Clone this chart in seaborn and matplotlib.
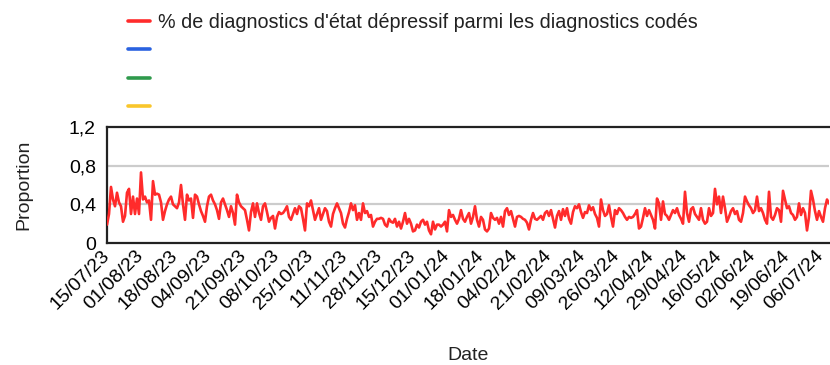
import numpy as np
import pandas as pd
import matplotlib
matplotlib.use("Agg")
import matplotlib.pyplot as plt
from matplotlib.lines import Line2D
import seaborn as sns

# Daily share of depression diagnoses among all coded diagnoses
start_date = "2023-07-15"
values_jul_sep = [
    0.19, 0.30, 0.58, 0.45, 0.38, 0.52, 0.42, 0.38, 0.22, 0.28,
    0.52, 0.56, 0.30, 0.48, 0.30, 0.46, 0.30, 0.73, 0.45, 0.48,
    0.42, 0.44, 0.24, 0.64, 0.50, 0.51, 0.50, 0.42, 0.24, 0.33,
    0.40, 0.45, 0.48, 0.40, 0.38, 0.36, 0.42, 0.60, 0.40, 0.24,
    0.50, 0.44, 0.46, 0.26, 0.50, 0.48, 0.40, 0.33, 0.28, 0.22,
    0.38, 0.48, 0.50, 0.44, 0.40, 0.34, 0.25, 0.42, 0.46, 0.40,
]
values_sep_nov = [
    0.34, 0.27, 0.38, 0.31, 0.19, 0.50, 0.42, 0.38, 0.36, 0.34,
    0.24, 0.13, 0.32, 0.41, 0.27, 0.41, 0.31, 0.24, 0.38, 0.41,
    0.32, 0.22, 0.26, 0.28, 0.15, 0.27, 0.32, 0.30, 0.31, 0.34,
    0.38, 0.27, 0.24, 0.30, 0.36, 0.30, 0.38, 0.36, 0.25, 0.13,
    0.41, 0.38, 0.44, 0.34, 0.24, 0.30, 0.36, 0.24, 0.30, 0.36,
    0.33, 0.22, 0.17, 0.30, 0.36, 0.41, 0.36, 0.31, 0.20, 0.16,
]
values_nov_jan = [
    0.25, 0.32, 0.41, 0.34, 0.39, 0.24, 0.31, 0.24, 0.41, 0.31,
    0.33, 0.27, 0.29, 0.17, 0.22, 0.25, 0.25, 0.26, 0.25, 0.19,
    0.17, 0.25, 0.22, 0.21, 0.25, 0.17, 0.22, 0.15, 0.22, 0.31,
    0.20, 0.25, 0.20, 0.12, 0.13, 0.19, 0.16, 0.22, 0.24, 0.19,
    0.22, 0.13, 0.09, 0.22, 0.14, 0.19, 0.19, 0.17, 0.19, 0.22,
    0.12, 0.34, 0.27, 0.29, 0.24, 0.20, 0.25, 0.34, 0.25, 0.22,
]
values_jan_mar = [
    0.27, 0.31, 0.20, 0.27, 0.38, 0.24, 0.17, 0.27, 0.24, 0.14,
    0.12, 0.15, 0.31, 0.26, 0.24, 0.26, 0.20, 0.27, 0.17, 0.33,
    0.36, 0.29, 0.33, 0.25, 0.17, 0.27, 0.28, 0.27, 0.25, 0.24,
    0.21, 0.14, 0.24, 0.31, 0.25, 0.24, 0.26, 0.28, 0.24, 0.31,
    0.33, 0.28, 0.34, 0.25, 0.16, 0.28, 0.33, 0.24, 0.35, 0.28,
    0.36, 0.25, 0.20, 0.32, 0.38, 0.36, 0.40, 0.32, 0.26, 0.32,
]
values_mar_may = [
    0.31, 0.39, 0.34, 0.37, 0.30, 0.26, 0.17, 0.45, 0.34, 0.28,
    0.30, 0.39, 0.27, 0.17, 0.34, 0.30, 0.36, 0.34, 0.31, 0.27,
    0.24, 0.27, 0.26, 0.27, 0.30, 0.34, 0.15, 0.17, 0.26, 0.36,
    0.28, 0.34, 0.29, 0.24, 0.15, 0.46, 0.41, 0.24, 0.43, 0.30,
    0.28, 0.24, 0.29, 0.34, 0.31, 0.36, 0.29, 0.25, 0.20, 0.53,
    0.31, 0.22, 0.35, 0.37, 0.30, 0.27, 0.24, 0.36, 0.24, 0.20,
]
values_may_jul = [
    0.22, 0.36, 0.28, 0.31, 0.56, 0.40, 0.48, 0.31, 0.48, 0.36,
    0.22, 0.27, 0.33, 0.36, 0.30, 0.33, 0.24, 0.22, 0.31, 0.48,
    0.43, 0.39, 0.36, 0.31, 0.34, 0.48, 0.33, 0.36, 0.31, 0.24,
    0.20, 0.53, 0.27, 0.24, 0.29, 0.36, 0.34, 0.22, 0.54, 0.45,
    0.36, 0.38, 0.31, 0.29, 0.24, 0.27, 0.41, 0.29, 0.36, 0.31,
    0.13, 0.27, 0.54, 0.45, 0.33, 0.24, 0.33, 0.27, 0.22, 0.36,
    0.45, 0.41,
]

series_label = "% de diagnostics d'état dépressif parmi les diagnostics codés"
y_ticks = [0, 0.4, 0.8, 1.2]
y_tick_labels = ["0", "0,4", "0,8", "1,2"]
tick_step_days = 17
n_ticks = 22

values = (values_jul_sep + values_sep_nov + values_nov_jan
          + values_jan_mar + values_mar_may + values_may_jul)
dates = pd.date_range(start_date, periods=len(values), freq="D")
df = pd.DataFrame({"Date": dates, "Proportion": values})

sns.set_style("white")
plt.rcParams["font.family"] = ["Liberation Sans", "DejaVu Sans"]

red, blue, green, yellow = "#ff2b2b", "#2a62e0", "#2f9a4c", "#f9c62b"
ink = "#222222"

fig = plt.figure(figsize=(8.3, 3.65), dpi=100)
ax = fig.add_axes([107 / 830, 122 / 365, 722 / 830, 116 / 365])

sns.lineplot(data=df, x="Date", y="Proportion", color=red, linewidth=1.9,
             ax=ax, legend=False, zorder=3)

ax.set_xlim(dates[0], dates[-1])
ax.set_ylim(0, 1.2)
ax.set_yticks(y_ticks)
ax.set_yticklabels(y_tick_labels)
for yv in y_ticks[1:-1]:
    ax.axhline(yv, color="#cccccc", linewidth=1.6, zorder=1)

tick_dates = pd.date_range(start_date, periods=n_ticks, freq=f"{tick_step_days}D")
ax.set_xticks(tick_dates)
ax.set_xticklabels([d.strftime("%d/%m/%y") for d in tick_dates],
                   rotation=45, ha="right", va="center",
                   rotation_mode="anchor")

ax.tick_params(axis="x", direction="out", length=4, width=1.2,
               color=ink, labelsize=14, pad=3, labelcolor="black")
ax.tick_params(axis="y", length=0, labelsize=14, pad=8, labelcolor="black")

for side in ["left", "bottom", "top"]:
    ax.spines[side].set_color(ink)
    ax.spines[side].set_linewidth(1.6)
ax.spines["right"].set_visible(False)

ax.set_xlabel("Date", fontsize=14, labelpad=25, color=ink)
ax.set_ylabel("Proportion", fontsize=14, labelpad=26, color=ink)

handles = [Line2D([], [], color=c, linewidth=2.6) for c in (red, blue, green, yellow)]
fig.legend(handles, [series_label, "", "", ""], loc="upper left",
           bbox_to_anchor=(124 / 830, 1 - 9 / 365), frameon=False,
           fontsize=14.2, handlelength=1.12, handletextpad=0.42,
           labelspacing=0.47, borderpad=0.2, borderaxespad=0,
           labelcolor=ink)

fig.savefig("out.png", dpi=100)
